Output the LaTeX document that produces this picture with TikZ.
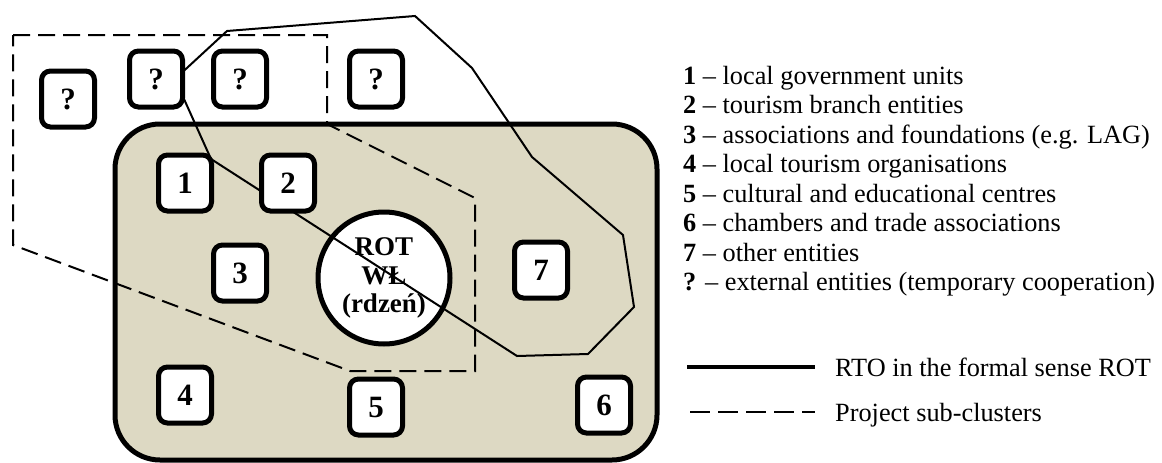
\documentclass[tikz,border=0pt]{standalone}
\usepackage{fontspec}
\setmainfont{Liberation Serif}
\definecolor{tanfill}{RGB}{221,217,195}
\begin{document}
\begin{tikzpicture}[x=1pt,y=-1pt,
  ent/.style={draw, line width=5pt, fill=white, rounded corners=9pt, minimum width=53pt, minimum height=56pt, inner sep=0pt, font=\fontsize{31}{32}\selectfont\bfseries},
  legtext/.style={anchor=base west, inner sep=0pt, font=\fontsize{26.3}{29}\selectfont},
  subcl/.style={line width=2pt, dash pattern=on 17pt off 8pt},
  rto/.style={line width=2pt, line join=miter}]
\useasboundingbox (0,0) rectangle (1162,463);
% formal RTO area
\draw[line width=5pt, fill=tanfill, rounded corners=45pt] (115,124) rectangle (657,460);
% project sub-cluster outline
\draw[subcl] (13,35) -- (327,35) -- (327,124) -- (475,198) -- (475,371) -- (350,371) -- (13,245) -- cycle;
% core
\node[circle, draw, line width=5pt, fill=white, minimum size=132pt, inner sep=0pt, align=center, font=\fontsize{27}{28.5}\selectfont\bfseries] (core) at (384,278) {ROT\\WŁ\\(rdzeń)};
% second cluster outline
\draw[rto] (175,79) -- (227,31) -- (415,16) -- (472,68) -- (532,157) -- (623,235) -- (634,307) -- (588,354) -- (517,356) -- (211,159) -- cycle;
% entities
\node[ent] (q1) at (68,99) {?};
\node[ent] (q2) at (156,79) {?};
\node[ent] (q3) at (240,79) {?};
\node[ent] (q4) at (376,79) {?};
\node[ent] (b1) at (185,183) {1};
\node[ent] (b2) at (288,183) {2};
\node[ent] (b3) at (240,273) {3};
\node[ent] (b4) at (185,395) {4};
\node[ent] (b5) at (376,407) {5};
\node[ent] (b6) at (604,405) {6};
\node[ent] (b7) at (541,270) {7};
% legend
\node[legtext] (l1) at (683,84) {\textbf{1} – local government units};
\node[legtext] (l2) at (683,113.5) {\textbf{2} – tourism branch entities};
\node[legtext] (l3) at (683,143) {\textbf{3} – associations and foundations (e.g. LAG)};
\node[legtext] (l4) at (683,172.5) {\textbf{4} – local tourism organisations};
\node[legtext] (l5) at (683,202) {\textbf{5} – cultural and educational centres};
\node[legtext] (l6) at (683,231.5) {\textbf{6} – chambers and trade associations};
\node[legtext] (l7) at (683,261) {\textbf{7} – other entities};
\node[legtext] (l8) at (683,290.5) {\textbf{?} – external entities (temporary cooperation)};
\coordinate (ls1) at (687,367); \coordinate (le1) at (815,367);
\draw[line width=4pt] (ls1) -- (le1);
\node[legtext] (lr) at (835,376) {RTO in the formal sense ROT};
\coordinate (ls2) at (690,412); \coordinate (le2) at (815,412);
\draw[line width=2pt, dash pattern=on 20pt off 8pt] (ls2) -- (le2);
\node[legtext] (lp) at (835,421) {Project sub-clusters};
\end{tikzpicture}
\end{document}
